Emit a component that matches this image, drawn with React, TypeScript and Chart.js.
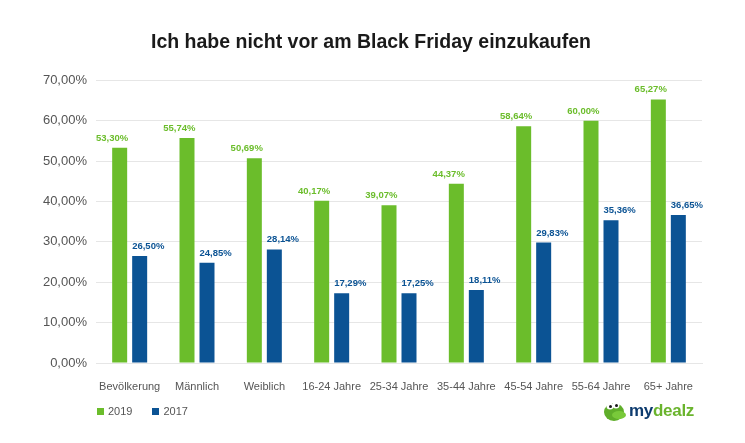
import React, { useEffect, useRef } from "react";
import Chart from "chart.js/auto";

const categories = [
  "Bevölkerung",
  "Männlich",
  "Weiblich",
  "16-24 Jahre",
  "25-34 Jahre",
  "35-44 Jahre",
  "45-54 Jahre",
  "55-64 Jahre",
  "65+ Jahre",
];
const values2019 = [53.3, 55.74, 50.69, 40.17, 39.07, 44.37, 58.64, 60.0, 65.27];
const values2017 = [26.5, 24.85, 28.14, 17.29, 17.25, 18.11, 29.83, 35.36, 36.65];
const seriesNames = ["2019", "2017"];

const GREEN = "#6bbd2b";
const BLUE = "#0b5394";
const FONT = "'Liberation Sans', Arial, Helvetica, sans-serif";

const fmt = (v: number) => v.toFixed(2).replace(".", ",") + "%";

const valueLabels = {
  id: "valueLabels",
  afterDatasetsDraw(chart: any) {
    const ctx = chart.ctx;
    ctx.save();
    ctx.font = `bold 9.5px ${FONT}`;
    ctx.textBaseline = "alphabetic";
    chart.data.datasets.forEach((ds: any, di: number) => {
      const meta = chart.getDatasetMeta(di);
      ctx.fillStyle = ds.backgroundColor;
      meta.data.forEach((bar: any, i: number) => {
        const half = bar.width / 2;
        if (di === 0) {
          ctx.textAlign = "right";
          ctx.fillText(fmt(ds.data[i]), bar.x + half + 1, bar.y - 7);
        } else {
          ctx.textAlign = "left";
          ctx.fillText(fmt(ds.data[i]), bar.x - half, bar.y - 7);
        }
      });
    });
    ctx.restore();
  },
};

const App = () => {
  const chartRef = useRef<HTMLCanvasElement | null>(null);

  useEffect(() => {
    document.body.style.margin = "0";
    if (!chartRef.current) return;
    const c = chartRef.current.getContext("2d");
    if (!c) throw new Error("Could not get chart context");
    const myChart = new Chart(c, {
      type: "bar",
      data: {
        labels: categories,
        datasets: [
          { label: seriesNames[0], data: values2019, backgroundColor: GREEN },
          { label: seriesNames[1], data: values2017, backgroundColor: BLUE },
        ],
      },
      options: {
        animation: false,
        responsive: false,
        maintainAspectRatio: false,
        layout: { padding: { left: 40, right: 43, top: 0, bottom: 0 } },
        datasets: {
          bar: { categoryPercentage: 0.594, barPercentage: 0.75 },
        },
        plugins: {
          legend: { display: false },
          tooltip: { enabled: false },
          title: {
            display: true,
            text: "Ich habe nicht vor am Black Friday einzukaufen",
            color: "#1a1a1a",
            font: { family: FONT, size: 19.5, weight: "bold", lineHeight: 1.2 },
            padding: { top: 31, bottom: 26 },
          },
        },
        scales: {
          x: {
            grid: { display: false },
            border: { color: "#e6e6e6", width: 1 },
            ticks: {
              color: "#555",
              font: { family: FONT, size: 11 },
              padding: 9,
              maxRotation: 0,
              autoSkip: false,
            },
            afterFit: (s: any) => {
              s.height = 80;
            },
          },
          y: {
            min: 0,
            max: 70,
            grid: { color: "#e6e6e6", drawTicks: false },
            border: { display: false },
            ticks: {
              stepSize: 10,
              color: "#555",
              font: { family: FONT, size: 13 },
              padding: 9,
              callback: (v: any) => fmt(Number(v)),
            },
            afterFit: (s: any) => {
              s.width = 56;
            },
          },
        },
      },
      plugins: [valueLabels],
    });
    return () => {
      myChart.destroy();
    };
  }, []);

  return (
    <div style={{ position: "relative", width: 745, height: 443, background: "#fff", fontFamily: FONT }}>
      <canvas ref={chartRef} width={745} height={443} style={{ position: "absolute", left: 0, top: 0, width: 745, height: 443 }} />
      <div style={{ position: "absolute", left: 97, top: 403, display: "flex", alignItems: "center", fontSize: 11, color: "#555", height: 16 }}>
        <span style={{ display: "inline-block", width: 7, height: 7, background: GREEN, marginRight: 4 }} />
        <span style={{ marginRight: 20 }}>{seriesNames[0]}</span>
        <span style={{ display: "inline-block", width: 7, height: 7, background: BLUE, marginRight: 4 }} />
        <span>{seriesNames[1]}</span>
      </div>
      <div style={{ position: "absolute", left: 603, top: 399, display: "flex", alignItems: "center", height: 24 }}>
        <svg width="24" height="22" viewBox="0 0 24 22">
          <ellipse cx="11" cy="12" rx="10" ry="9" fill="#5fae2a" />
          <ellipse cx="16" cy="15" rx="7" ry="4" fill="#79c93a" />
          <circle cx="7" cy="6" r="3.5" fill="#fff" />
          <circle cx="13" cy="5" r="3.5" fill="#fff" />
          <circle cx="7.5" cy="6.5" r="1.5" fill="#1a1a1a" />
          <circle cx="13.5" cy="5.5" r="1.5" fill="#1a1a1a" />
        </svg>
        <span style={{ fontWeight: "bold", fontSize: 17, marginLeft: 2, letterSpacing: -0.3 }}>
          <span style={{ color: "#0d3b6e" }}>my</span>
          <span style={{ color: "#6ab42d" }}>dealz</span>
        </span>
      </div>
    </div>
  );
};

export default App;
